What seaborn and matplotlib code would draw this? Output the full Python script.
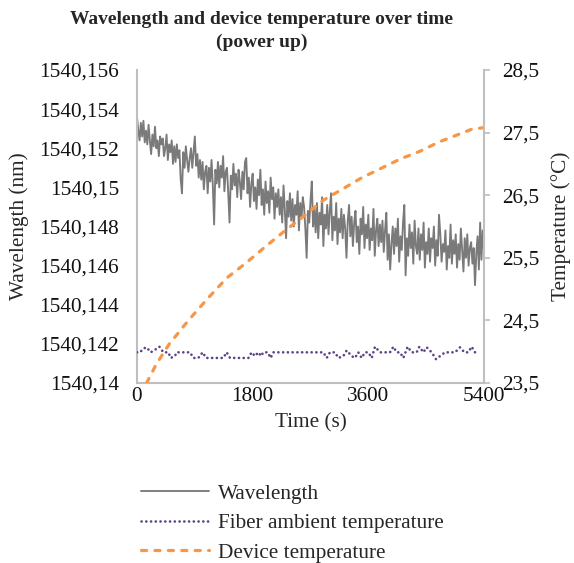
import matplotlib
matplotlib.use("Agg")
import matplotlib.pyplot as plt
import seaborn as sns

# ---------------- data ----------------
time_wl = list(range(0, 5401, 20))  # s, sampling grid of the wavelength trace
wavelength = [
    1540.1536, 1540.1529, 1540.1524, 1540.1533, 1540.1526, 1540.1534, 1540.1523, 1540.1529, 1540.1522, 1540.1532,
    1540.1524, 1540.1517, 1540.1527, 1540.1521, 1540.1531, 1540.1520, 1540.1524, 1540.1516, 1540.1526, 1540.1522,
    1540.1525, 1540.1516, 1540.1520, 1540.1527, 1540.1514, 1540.1522, 1540.1518, 1540.1524, 1540.1512, 1540.1521,
    1540.1513, 1540.1522, 1540.1515, 1540.1519, 1540.1504, 1540.1497, 1540.1518, 1540.1510, 1540.1521, 1540.1514,
    1540.1508, 1540.1515, 1540.1520, 1540.1510, 1540.1518, 1540.1526, 1540.1511, 1540.1517, 1540.1505, 1540.1514,
    1540.1504, 1540.1513, 1540.1499, 1540.1508, 1540.1511, 1540.1497, 1540.1510, 1540.1503, 1540.1514, 1540.1501,
    1540.1481, 1540.1509, 1540.1502, 1540.1513, 1540.1500, 1540.1511, 1540.1505, 1540.1516, 1540.1498, 1540.1508,
    1540.1510, 1540.1497, 1540.1482, 1540.1506, 1540.1499, 1540.1512, 1540.1501, 1540.1507, 1540.1495, 1540.1509,
    1540.1503, 1540.1494, 1540.1508, 1540.1499, 1540.1513, 1540.1515, 1540.1497, 1540.1505, 1540.1490, 1540.1502,
    1540.1507, 1540.1493, 1540.1500, 1540.1489, 1540.1504, 1540.1496, 1540.1509, 1540.1491, 1540.1499, 1540.1486,
    1540.1503, 1540.1492, 1540.1498, 1540.1487, 1540.1505, 1540.1494, 1540.1500, 1540.1484, 1540.1497, 1540.1490,
    1540.1499, 1540.1486, 1540.1495, 1540.1482, 1540.1501, 1540.1489, 1540.1474, 1540.1493, 1540.1485, 1540.1497,
    1540.1483, 1540.1494, 1540.1480, 1540.1491, 1540.1486, 1540.1498, 1540.1478, 1540.1492, 1540.1484, 1540.1495,
    1540.1490, 1540.1479, 1540.1464, 1540.1488, 1540.1482, 1540.1493, 1540.1503, 1540.1480, 1540.1489, 1540.1477,
    1540.1492, 1540.1474, 1540.1487, 1540.1481, 1540.1495, 1540.1470, 1540.1486, 1540.1479, 1540.1491, 1540.1476,
    1540.1488, 1540.1497, 1540.1473, 1540.1485, 1540.1478, 1540.1492, 1540.1471, 1540.1484, 1540.1477, 1540.1489,
    1540.1474, 1540.1486, 1540.1479, 1540.1464, 1540.1483, 1540.1491, 1540.1475, 1540.1485, 1540.1470, 1540.1482,
    1540.1488, 1540.1472, 1540.1480, 1540.1466, 1540.1484, 1540.1476, 1540.1490, 1540.1469, 1540.1481, 1540.1474,
    1540.1486, 1540.1468, 1540.1479, 1540.1473, 1540.1489, 1540.1465, 1540.1478, 1540.1484, 1540.1470, 1540.1481,
    1540.1472, 1540.1483, 1540.1467, 1540.1478, 1540.1487, 1540.1463, 1540.1476, 1540.1458, 1540.1471, 1540.1480,
    1540.1466, 1540.1479, 1540.1470, 1540.1484, 1540.1462, 1540.1475, 1540.1468, 1540.1482, 1540.1491, 1540.1455,
    1540.1474, 1540.1465, 1540.1481, 1540.1469, 1540.1477, 1540.1461, 1540.1483, 1540.1470, 1540.1466, 1540.1479,
    1540.1463, 1540.1476, 1540.1468, 1540.1482, 1540.1459, 1540.1472, 1540.1466, 1540.1479, 1540.1462, 1540.1474,
    1540.1469, 1540.1480, 1540.1460, 1540.1473, 1540.1465, 1540.1486, 1540.1476, 1540.1462, 1540.1471, 1540.1467,
    1540.1478, 1540.1458, 1540.1470, 1540.1464, 1540.1481, 1540.1461, 1540.1473, 1540.1466, 1540.1476, 1540.1459,
    1540.1471, 1540.1463, 1540.1479, 1540.1468, 1540.1457, 1540.1474, 1540.1464, 1540.1476, 1540.1460, 1540.1469,
    1540.1472, 1540.1461, 1540.1469, 1540.1450, 1540.1466, 1540.1475, 1540.1458, 1540.1482, 1540.1463, 1540.1478,
    1540.1468,
]

fiber_time = [
    0, 47, 99, 150, 213, 280, 348, 410, 488, 524,
    591, 617, 669, 747, 825, 877, 954, 1022, 1074, 1136,
    1214, 1266, 1343, 1395, 1447, 1525, 1603, 1655, 1733, 1784,
    1836, 1888, 1930, 1966, 2033, 2080, 2122, 2225, 2303, 2381,
    2485, 2589, 2692, 2796, 2900, 2952, 3003, 3081, 3133, 3211,
    3263, 3341, 3392, 3444, 3496, 3548, 3600, 3652, 3704, 3782,
    3859, 3937, 3989, 4041, 4093, 4145, 4212, 4274, 4352, 4394,
    4456, 4508, 4586, 4653, 4716, 4793, 4871, 4949, 5027, 5094,
    5156, 5208, 5260,
]
fiber_temp = [
    23.99, 23.99, 24.05, 24.07, 23.99, 24.03, 24.08, 23.99, 23.99, 23.90,
    23.93, 23.99, 23.99, 23.99, 23.99, 23.90, 23.90, 23.99, 23.90, 23.90,
    23.90, 23.90, 23.90, 23.99, 23.90, 23.90, 23.90, 23.90, 23.90, 23.99,
    23.93, 23.99, 23.93, 23.99, 23.99, 23.90, 23.99, 23.99, 23.99, 23.99,
    23.99, 23.99, 23.99, 23.99, 23.99, 23.90, 23.99, 23.99, 23.90, 23.93,
    24.02, 23.93, 23.90, 23.99, 23.90, 23.99, 23.99, 23.90, 24.08, 23.99,
    23.99, 23.99, 24.08, 23.99, 23.99, 23.90, 24.08, 23.99, 23.99, 24.08,
    23.99, 24.07, 23.99, 23.88, 23.93, 23.99, 23.99, 23.99, 24.07, 23.99,
    23.99, 24.08, 23.99,
]

device_time = [150, 300, 500, 800, 1100, 1400, 1700, 2000, 2300, 2600,
               2900, 3200, 3500, 3800, 4100, 4400, 4700, 5000, 5200, 5400]
device_temp = [23.50, 23.80, 24.12, 24.50, 24.85, 25.18, 25.42, 25.68, 25.93, 26.17,
               26.42, 26.60, 26.78, 26.93, 27.08, 27.20, 27.35, 27.47, 27.55, 27.58]

series_labels = ["Wavelength", "Fiber ambient temperature", "Device temperature"]
title_lines = ["Wavelength and device temperature over time", "(power up)"]
x_ticks = [0, 1800, 3600, 5400]
x_ticklabels = ["0", "1800", "3600", "5400"]
wl_ticks = [1540.140, 1540.142, 1540.144, 1540.146, 1540.148, 1540.150, 1540.152, 1540.154, 1540.156]
wl_ticklabels = ["1540,14", "1540,142", "1540,144", "1540,146", "1540,148",
                 "1540,15", "1540,152", "1540,154", "1540,156"]
temp_ticks = [23.5, 24.5, 25.5, 26.5, 27.5, 28.5]
temp_ticklabels = ["23,5", "24,5", "25,5", "26,5", "27,5", "28,5"]

# ---------------- style ----------------
sns.set_theme(style="white")
plt.rcParams['font.family'] = ['Liberation Serif', 'DejaVu Serif']
FS = 15.3
SPINE = '#bfbfbf'
TXT = '#111111'

fig = plt.figure(figsize=(5.74, 5.63), dpi=100)
ax = fig.add_axes([137 / 574, 1 - 383 / 563, 347 / 574, 313 / 563])

sns.lineplot(x=time_wl, y=wavelength, ax=ax, color='#7a7a7a', linewidth=1.35,
             label=series_labels[0], legend=False)
ax2 = ax.twinx()
sns.lineplot(x=fiber_time, y=fiber_temp, ax=ax2, color='#5b4387', linewidth=1.9,
             linestyle=(0, (0.05, 1.75)), dash_capstyle='round',
             label=series_labels[1], legend=False)
sns.lineplot(x=device_time, y=device_temp, ax=ax2, color='#f79646', linewidth=2.3,
             linestyle=(0, (1.6, 2.6)), dash_capstyle='round',
             label=series_labels[2], legend=False)

ax.set_xlim(0, 5400)
ax.set_ylim(1540.14, 1540.156)
ax2.set_ylim(23.5, 28.5)

ax.set_xticks(x_ticks)
ax.set_xticklabels(x_ticklabels, fontsize=FS, color=TXT)
ax.set_yticks(wl_ticks)
ax.set_yticklabels(wl_ticklabels, fontsize=FS, color=TXT)
ax2.set_yticks(temp_ticks)
ax2.set_yticklabels(temp_ticklabels, fontsize=FS, color=TXT)

ax.tick_params(axis='y', length=0, pad=13)
ax.tick_params(axis='x', length=0, pad=3)
ax2.yaxis.set_tick_params(which='major', right=True, labelright=True, left=False,
                          labelleft=False, length=4, width=1.2, color=SPINE,
                          pad=8.8, direction='out')

for a in (ax, ax2):
    for s in a.spines.values():
        s.set_visible(False)
ax.spines['left'].set_visible(True)
ax.spines['bottom'].set_visible(True)
ax2.spines['right'].set_visible(True)
for s in (ax.spines['left'], ax.spines['bottom'], ax2.spines['right']):
    s.set_color(SPINE)
    s.set_linewidth(1.5)

ax.set_xlabel("Time (s)", fontsize=FS)
ax.xaxis.set_label_coords(0.5, (383 - 413) / 313)
ax.set_ylabel("Wavelength (nm)", fontsize=FS)
ax.yaxis.set_label_coords((29 - 137) / 347, 0.5)
ax2.set_ylabel("Temperature (°C)", fontsize=FS)
ax2.yaxis.set_label_coords((551 - 137) / 347, 0.5)

fig.text(262 / 574, 1 - 24 / 563, title_lines[0], ha='center', va='baseline',
         fontsize=14, fontweight='bold')
fig.text(262 / 574, 1 - 47 / 563, title_lines[1], ha='center', va='baseline',
         fontsize=14, fontweight='bold')

handles = [ax.lines[0], ax2.lines[0], ax2.lines[1]]
fig.legend(handles, series_labels, loc='upper left',
           bbox_to_anchor=(141 / 574, 1 - 484 / 563), frameon=False,
           fontsize=FS, handlelength=3.2, handletextpad=0.4,
           labelspacing=0.45, borderpad=0, borderaxespad=0)

fig.savefig("out.png", dpi=100)
